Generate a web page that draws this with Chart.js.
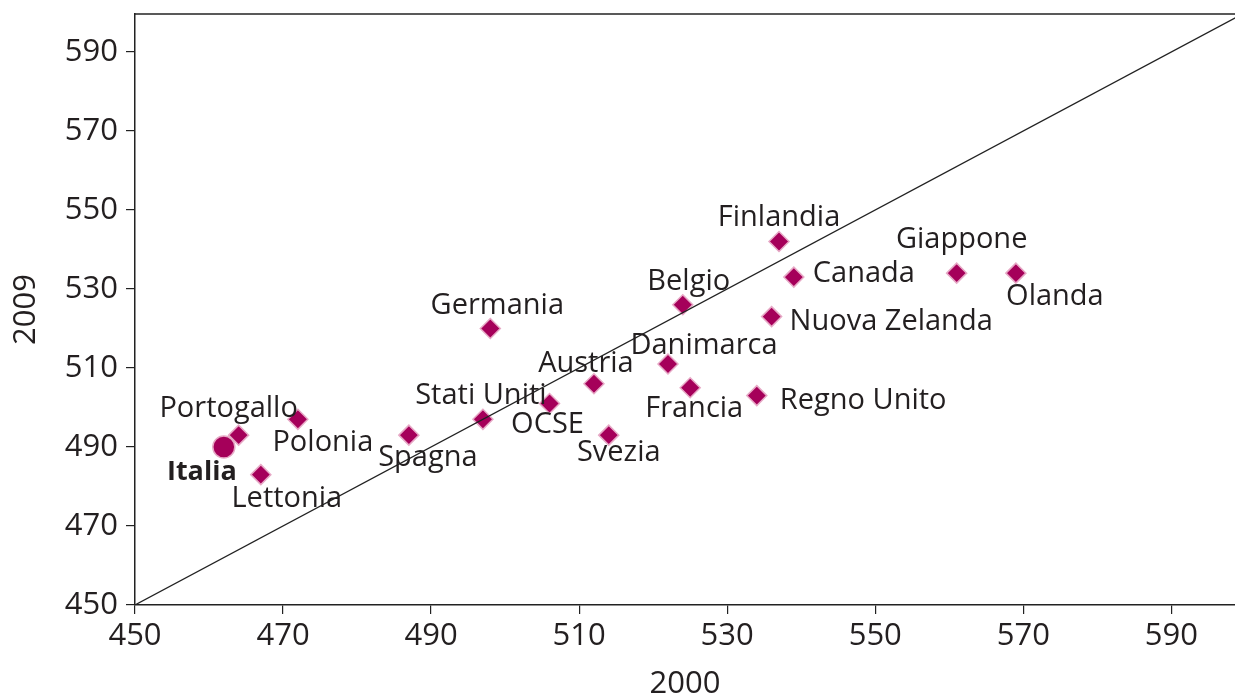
<!DOCTYPE html>
<html>
<head>
<meta charset="utf-8">
<script src="https://cdn.jsdelivr.net/npm/chart.js@4.4.1/dist/chart.umd.min.js"></script>
<style>
  html, body { margin: 0; padding: 0; background: #fff; overflow: hidden; }
  canvas { display: block; }
</style>
</head>
<body>
<canvas id="grafico" width="1235" height="695"></canvas>
<script>
const paesi = ["Italia", "Portogallo", "Lettonia", "Polonia", "Spagna", "Stati Uniti", "Germania", "OCSE",
  "Austria", "Svezia", "Danimarca", "Francia", "Belgio", "Regno Unito", "Nuova Zelanda", "Finlandia",
  "Canada", "Giappone", "Olanda"];
const anno2000 = [462, 464, 467, 472, 487, 497, 498, 506, 512, 514, 522, 525, 524, 534, 536, 537, 539, 561, 569];
const anno2009 = [490, 493, 483, 497, 493, 497, 520, 501, 506, 493, 511, 505, 526, 503, 523, 542, 533, 534, 534];
const ticks = [450, 470, 490, 510, 530, 550, 570, 590];

// posizione etichette rispetto al punto: [dx, dy, allineamento]
const posEtichette = [
  [-22, 25, "center"], [-10, -26, "center"], [26, 24, "center"], [25, 23, "center"], [19, 23, "center"],
  [-2, -24, "center"], [7, -23, "center"], [-2, 21, "center"], [-8, -20, "center"], [10, 18, "center"],
  [36, -18, "center"], [4, 21, "center"], [6, -23, "center"], [23, 5, "left"], [18, 5, "left"],
  [0, -24, "center"], [19, -3, "left"], [5, -33, "center"], [39, 24, "center"]
];

const FONT = "'Open Sans', sans-serif";
const COLORE = "#a5005a";

const punti = paesi.map((p, i) => ({ x: anno2000[i], y: anno2009[i] }));

/* etichette e bordo superiore */
const etichette = {
  id: "etichette",
  afterDatasetsDraw(chart) {
    const ctx = chart.ctx;
    const xs = chart.scales.x, ys = chart.scales.y;
    const area = chart.chartArea;
    ctx.save();
    ctx.strokeStyle = "#222";
    ctx.lineWidth = 1.5;
    ctx.beginPath();
    ctx.moveTo(area.left, area.top);
    ctx.lineTo(area.right, area.top);
    ctx.stroke();
    ctx.fillStyle = "#231f20";
    ctx.textBaseline = "middle";
    paesi.forEach((p, i) => {
      const px = xs.getPixelForValue(anno2000[i]);
      const py = ys.getPixelForValue(anno2009[i]);
      const [dx, dy, al] = posEtichette[i];
      ctx.font = (p === "Italia" ? "bold 27px " : "29px ") + FONT;
      ctx.textAlign = al;
      ctx.fillText(p, px + dx, py + dy);
    });
    ctx.restore();
  }
};

new Chart(document.getElementById("grafico"), {
  type: "scatter",
  data: {
    datasets: [
      {
        type: "line",
        data: [{ x: 450, y: 450 }, { x: 600, y: 600 }],
        borderColor: "#222",
        borderWidth: 1.2,
        pointRadius: 0,
        fill: false
      },
      {
        data: punti,
        pointStyle: punti.map((d, i) => paesi[i] === "Italia" ? "circle" : "rectRot"),
        pointRadius: punti.map((d, i) => paesi[i] === "Italia" ? 11 : 10),
        backgroundColor: COLORE,
        borderColor: "#e7a9c6",
        borderWidth: 1.5
      }
    ]
  },
  options: {
    responsive: false,
    animation: false,
    layout: { autoPadding: false, padding: { top: 14, right: 0, left: 0, bottom: 0 } },
    plugins: { legend: { display: false }, tooltip: { enabled: false } },
    scales: {
      x: {
        type: "linear",
        min: 450,
        max: 598.6,
        afterBuildTicks: s => { s.ticks = ticks.map(v => ({ value: v })); },
        afterFit: s => { s.height = 90; s.paddingRight = 0; },
        ticks: { color: "#231f20", font: { family: FONT, size: 31 }, padding: 4, maxRotation: 0 },
        grid: { drawOnChartArea: false, tickLength: 9, color: "#222", lineWidth: 1.2 },
        border: { color: "#222", width: 1.5 },
        title: { display: true, text: "2000", color: "#231f20", font: { family: FONT, size: 31 }, padding: { top: 0, bottom: -8 } }
      },
      y: {
        type: "linear",
        min: 450,
        max: 599.6,
        afterBuildTicks: s => { s.ticks = ticks.map(v => ({ value: v })); },
        afterFit: s => { s.width = 135; s.paddingTop = 0; },
        ticks: { color: "#231f20", font: { family: FONT, size: 31 }, padding: 8 },
        grid: { drawOnChartArea: false, tickLength: 9, color: "#222", lineWidth: 1.2 },
        border: { color: "#222", width: 1.5 },
        title: { display: true, text: "2009", color: "#231f20", font: { family: FONT, size: 31 }, padding: { top: 8, bottom: 0 } }
      }
    }
  },
  plugins: [etichette]
});
</script>
</body>
</html>
